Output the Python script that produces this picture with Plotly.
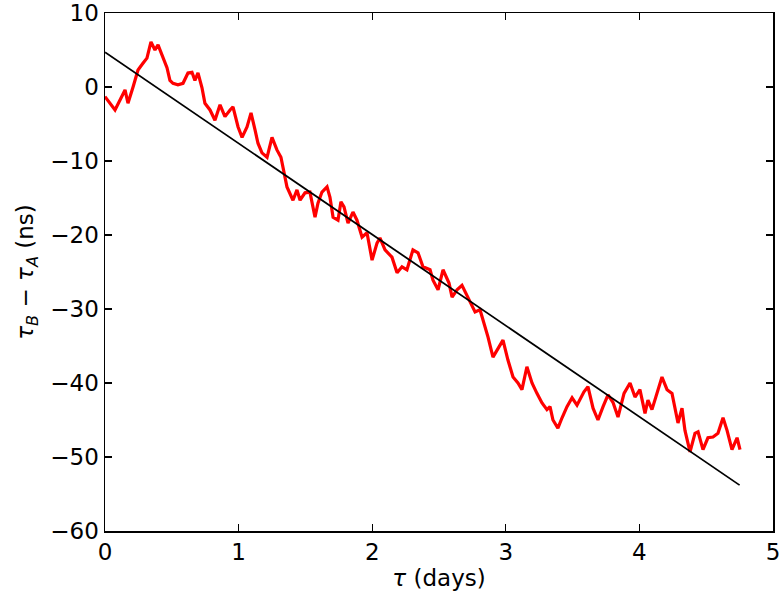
import plotly.graph_objects as go

tau_days = [0.000, 0.075, 0.150, 0.172, 0.210, 0.247, 0.284, 0.314, 0.344, 0.374, 0.397,
            0.419, 0.434, 0.464, 0.486, 0.509, 0.546, 0.584, 0.621, 0.651, 0.673, 0.696, 0.726,
            0.748, 0.786, 0.823, 0.861, 0.898, 0.936, 0.958, 0.996, 1.026, 1.063, 1.093, 1.123,
            1.145, 1.175, 1.213, 1.250, 1.287, 1.317, 1.347, 1.362, 1.407, 1.437, 1.460,
            1.497, 1.534, 1.572, 1.594, 1.624, 1.662, 1.684, 1.707, 1.744, 1.766, 1.789, 1.819,
            1.856, 1.886, 1.924, 1.961, 1.999, 2.036, 2.058, 2.096, 2.148, 2.186, 2.223, 2.260,
            2.305, 2.343, 2.380, 2.433, 2.455, 2.493, 2.530, 2.575, 2.598, 2.635, 2.672, 2.732,
            2.770, 2.807, 2.844, 2.867, 2.904, 2.942, 2.979, 3.016, 3.054, 3.091, 3.121, 3.158,
            3.196, 3.233, 3.271, 3.308, 3.331, 3.353, 3.390, 3.421, 3.458, 3.496, 3.533, 3.585,
            3.615, 3.653, 3.690, 3.728, 3.765, 3.802, 3.840, 3.885, 3.930, 3.967, 4.004, 4.042,
            4.064, 4.094, 4.139, 4.169, 4.207, 4.244, 4.289, 4.319, 4.341, 4.379, 4.416, 4.439,
            4.476, 4.513, 4.551, 4.588, 4.626, 4.656, 4.693, 4.731, 4.753]
delta_ns = [-1.3, -3.1, -0.4, -2.2, 0.0, 2.3, 3.2, 3.9, 6.1, 5.0, 5.7,
            4.7, 4.0, 2.6, 0.9, 0.5, 0.3, 0.5, 1.9, 2.0, 0.9, 1.9, -0.1,
            -2.2, -3.1, -4.5, -2.4, -4.0, -3.1, -2.7, -5.4, -6.8, -5.4, -3.5, -5.8,
            -7.6, -8.9, -9.5, -6.8, -8.5, -9.5, -12.2, -13.5, -15.3, -13.9, -15.3,
            -14.3, -14.2, -17.6, -15.7, -14.2, -13.5, -14.9, -17.6, -18.0, -15.5, -16.2, -18.4,
            -16.9, -18.0, -20.3, -19.7, -23.4, -21.1, -20.4, -22.0, -23.0, -25.1, -24.3, -24.7,
            -22.0, -22.4, -24.3, -24.7, -26.1, -27.4, -24.7, -26.5, -28.4, -27.4, -26.8, -29.0,
            -30.4, -30.1, -32.4, -33.8, -36.5, -35.3, -34.2, -36.9, -39.2, -40.0, -40.9, -37.8,
            -40.0, -41.4, -42.7, -43.6, -43.2, -45.0, -46.1, -44.7, -43.2, -42.0, -43.0, -41.2,
            -40.5, -43.4, -45.0, -43.2, -41.6, -42.6, -44.6, -41.4, -40.0, -41.9, -40.9, -44.1,
            -42.3, -43.6, -40.9, -39.2, -40.9, -41.4, -45.4, -43.4, -46.4, -49.3, -46.8, -46.6,
            -49.0, -47.4, -47.3, -46.8, -44.7, -46.4, -49.0, -47.4, -49.0, -49.7]

# Black linear fit: endpoints
fit_x = [0.0, 4.75]
fit_y = [4.7, -53.8]

x_ticks = [0, 1, 2, 3, 4, 5]
y_ticks = [10, 0, -10, -20, -30, -40, -50, -60]
y_tick_text = [str(v).replace("-", "\u2212") for v in y_ticks]

fig = go.Figure()
fig.add_trace(go.Scatter(x=tau_days, y=delta_ns, mode="lines",
                         line=dict(color="#ff0000", width=3.2), showlegend=False))
fig.add_trace(go.Scatter(x=fit_x, y=fit_y, mode="lines",
                         line=dict(color="black", width=1.8), showlegend=False))

font_family = "DejaVu Sans"
axis_common = dict(showline=True, linecolor="black", linewidth=1.5, mirror="allticks",
                   ticks="inside", ticklen=7, tickwidth=1.2, tickcolor="black",
                   showgrid=False, zeroline=False, automargin=False,
                   ticklabeloverflow="allow",
                   tickfont=dict(family=font_family, size=23, color="black"))

fig.update_layout(
    width=780, height=600,
    margin=dict(l=105, r=7, t=13, b=69, autoexpand=False),
    plot_bgcolor="white", paper_bgcolor="white",
    xaxis=dict(range=[0, 5], tickvals=x_ticks, ticktext=[str(v) for v in x_ticks],
               title=dict(text="<i>τ</i> (days)", standoff=6,
                          font=dict(family=font_family, size=23, color="black")),
               **axis_common),
    yaxis=dict(range=[-60, 10], tickvals=y_ticks, ticktext=y_tick_text,
               title=dict(text="<i>τ</i><sub><i>B</i></sub> − <i>τ</i><sub><i>A</i></sub> (ns)",
                          standoff=10,
                          font=dict(family=font_family, size=23, color="black")),
               **axis_common),
)

# remove the default page margin so the 780x600 figure fills the window exactly
fig.write_html("out.html",
               config={"displayModeBar": False, "staticPlot": True},
               post_script="document.body.style.margin='0';document.body.style.overflow='hidden';")
